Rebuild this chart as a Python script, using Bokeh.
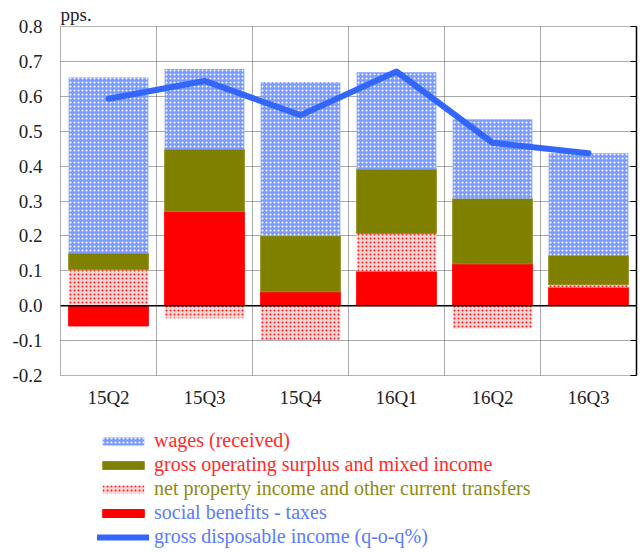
from bokeh.plotting import figure
from bokeh.models import (ColumnDataSource, FixedTicker, Span, Legend,
                          LegendItem, LinearAxis, Range1d)
from bokeh.layouts import column
from bokeh.embed import file_html
from bokeh.resources import INLINE

categories = ["15Q2", "15Q3", "15Q4", "16Q1", "16Q2", "16Q3"]
social = [-0.058, 0.270, 0.040, 0.098, 0.120, 0.052]
property_inc = [0.103, -0.036, -0.098, 0.109, -0.065, 0.008]
gos = [0.047, 0.178, 0.160, 0.184, 0.187, 0.084]
wages = [0.504, 0.230, 0.440, 0.278, 0.227, 0.293]
gdi = [0.593, 0.644, 0.546, 0.671, 0.467, 0.437]
y_ticks = [-0.2, -0.1, 0.0, 0.1, 0.2, 0.3, 0.4, 0.5, 0.6, 0.7, 0.8]

FONT = "Liberation Serif"
TXT = "#222222"

xs = [i + 0.5 for i in range(len(categories))]

p = figure(width=643, height=410, output_backend="svg", toolbar_location=None,
           x_range=Range1d(0, len(categories)), y_range=Range1d(-0.2, 0.8),
           min_border_left=60, min_border_top=24, min_border_bottom=34,
           min_border_right=7, title="pps.")
p.background_fill_color = "white"
p.border_fill_color = "white"
p.outline_line_color = "#666666"
p.outline_line_dash = "1 1"
p.title.text_font = FONT
p.title.text_font_size = "19px"
p.title.text_font_style = "normal"
p.title.text_color = TXT
p.title.align = "left"
p.title.standoff = 3
p.title.text_line_height = 1.0

SERIES_STYLE = {
    "social benefits - taxes":
        dict(fill_color="#ff0000", line_color="#ff0000"),
    "net property income and other current transfers":
        dict(fill_color="#ffd6d6", line_color=None, hatch_pattern="dot",
             hatch_color="#ff1a1a", hatch_scale=4, hatch_weight=2.2),
    "gross operating surplus and mixed income":
        dict(fill_color="#808000", line_color="#8f8f20"),
    "wages (received)":
        dict(fill_color="#7b9bff", line_color=None, hatch_pattern="dot",
             hatch_color="white", hatch_scale=4, hatch_weight=1.6),
}
LINE_NAME = "gross disposable income (q-o-q%)"
LINE_STYLE = dict(line_color="#3366ff", line_width=6, line_join="round",
                  line_cap="round")

series = [
    ("social benefits - taxes", social),
    ("net property income and other current transfers", property_inc),
    ("gross operating surplus and mixed income", gos),
    ("wages (received)", wages),
]
pos = [0.0] * len(categories)
neg = [0.0] * len(categories)
for name, vals in series:
    bottoms, tops = [], []
    for i, v in enumerate(vals):
        if v >= 0:
            bottoms.append(pos[i]); tops.append(pos[i] + v); pos[i] += v
        else:
            tops.append(neg[i]); bottoms.append(neg[i] + v); neg[i] += v
    src = ColumnDataSource(dict(x=xs, bottom=bottoms, top=tops))
    p.vbar(x="x", bottom="bottom", top="top", width=0.83, source=src,
           **SERIES_STYLE[name])

p.line(x="x", y="y", source=ColumnDataSource(dict(x=xs, y=gdi)), **LINE_STYLE)

p.add_layout(Span(location=0, dimension="width", line_color="black",
                  line_width=1.5))

# axes
p.xaxis.ticker = FixedTicker(ticks=xs)
p.xaxis.major_label_overrides = {x: c for x, c in zip(xs, categories)}
p.xaxis.axis_line_color = None
p.xaxis.major_tick_line_color = None
p.xaxis.major_tick_out = 0
p.xaxis.major_tick_in = 0
p.xaxis.minor_tick_line_color = None
p.xaxis.major_label_text_font = FONT
p.xaxis.major_label_text_font_size = "19px"
p.xaxis.major_label_text_color = TXT
p.xaxis.major_label_standoff = 11

p.yaxis.ticker = FixedTicker(ticks=y_ticks)
p.yaxis.major_label_overrides = {t: f"{t:.1f}" for t in y_ticks}
p.yaxis.axis_line_color = None
p.yaxis.major_tick_line_color = None
p.yaxis.major_tick_out = 0
p.yaxis.major_tick_in = 0
p.yaxis.minor_tick_line_color = None
p.yaxis.major_label_text_font = FONT
p.yaxis.major_label_text_font_size = "19px"
p.yaxis.major_label_text_color = TXT
p.yaxis.major_label_standoff = 18

right_axis = LinearAxis(ticker=FixedTicker(ticks=y_ticks))
right_axis.axis_line_color = "black"
right_axis.axis_line_width = 1.5
right_axis.major_tick_in = 6
right_axis.major_tick_out = 0
right_axis.major_tick_line_color = "black"
right_axis.minor_tick_line_color = None
right_axis.major_label_overrides = {t: "" for t in y_ticks}
right_axis.major_label_standoff = 0
p.add_layout(right_axis, "right")

# grids
p.ygrid.ticker = FixedTicker(ticks=y_ticks)
p.ygrid.grid_line_color = "#555555"
p.ygrid.grid_line_dash = "1 1"
p.xgrid.ticker = FixedTicker(ticks=list(range(1, len(categories))))
p.xgrid.grid_line_color = "#555555"
p.xgrid.grid_line_dash = "1 1"

# legend panel (separate figure so that entries are not clipped);
# its proxy glyphs sit outside the visible range, only the legend shows
lf = figure(width=643, height=142, output_backend="svg", toolbar_location=None,
            x_range=Range1d(0, 1), y_range=Range1d(0, 1),
            x_axis_location=None, y_axis_location=None,
            min_border_left=0, min_border_right=0, min_border_top=0,
            min_border_bottom=0)
lf.outline_line_color = None
lf.xgrid.visible = False
lf.ygrid.visible = False

legend_renderers = {}
for name, style in SERIES_STYLE.items():
    legend_renderers[name] = lf.vbar(
        x="x", bottom="bottom", top="top", width=0.5,
        source=ColumnDataSource(dict(x=[-10], bottom=[-10], top=[-9])),
        **style)
legend_renderers[LINE_NAME] = lf.line(
    x="x", y="y", source=ColumnDataSource(dict(x=[-10, -9], y=[-10, -10])),
    **LINE_STYLE)

legend_rows = [
    ("wages (received)", "#ff2a2a"),
    ("gross operating surplus and mixed income", "#ff2a2a"),
    ("net property income and other current transfers", "#8c8c10"),
    ("social benefits - taxes", "#5a7bff"),
    (LINE_NAME, "#5a7bff"),
]
row_y = [100, 76, 52, 28, 4]
for (name, color), yy in zip(legend_rows, row_y):
    lg = Legend(items=[LegendItem(label=name, renderers=[legend_renderers[name]])],
                location=(37, yy), orientation="vertical",
                padding=0, margin=0, spacing=0, border_line_color=None,
                background_fill_alpha=0, glyph_width=52, glyph_height=10,
                label_height=20, label_standoff=5,
                label_text_font=FONT, label_text_font_size="20px",
                label_text_color=color, label_text_baseline="middle")
    lf.add_layout(lg, "center")

layout = column(p, lf, spacing=0)
open("out.html", "w").write(file_html(layout, INLINE))
